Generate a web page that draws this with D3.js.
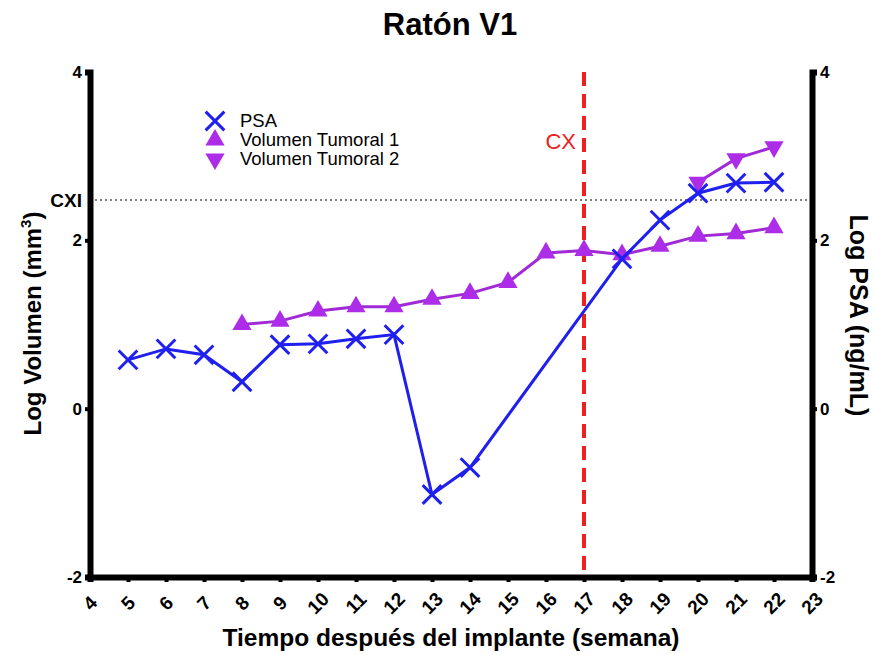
<!DOCTYPE html>
<html>
<head>
<meta charset="utf-8">
<script src="https://cdn.jsdelivr.net/npm/d3@7"></script>
<style>
  body { margin: 0; background: #fff; }
  text { font-family: "Liberation Sans", Arial, sans-serif; }
</style>
</head>
<body>
<script>
'use strict';

// weeks and values
const psaWeeks = [5, 6, 7, 8, 9, 10, 11, 12, 13, 14, 18, 19, 20, 21, 22];
const psaValues = [0.58, 0.71, 0.64, 0.32, 0.76, 0.77, 0.83, 0.88, -1.02, -0.70, 1.78, 2.24, 2.56, 2.68, 2.69];
const vol1Weeks = [8, 9, 10, 11, 12, 13, 14, 15, 16, 17, 18, 19, 20, 21, 22];
const vol1Values = [1.00, 1.04, 1.16, 1.21, 1.21, 1.30, 1.37, 1.50, 1.85, 1.88, 1.83, 1.93, 2.05, 2.08, 2.15];
const vol2Weeks = [20, 21, 22];
const vol2Values = [2.69, 2.97, 3.11];
const xTicks = [4, 5, 6, 7, 8, 9, 10, 11, 12, 13, 14, 15, 16, 17, 18, 19, 20, 21, 22, 23];
const yTicks = [-2, 0, 2, 4];
const cxiLevel = 2.48;
const cxWeek = 17;

const blue = "#1f1fee";
const purpleLine = "#a02ad6";
const purpleMark = "#ad2ce8";

const svg = d3.select('body').append('svg')
  .attr('width', 875)
  .attr('height', 655);

const x = d3.scaleLinear().domain([4, 23]).range([90, 812]);
const y = d3.scaleLinear().domain([-2, 4]).range([577, 72]);

// title
svg.append('text')
  .attr('x', 450).attr('y', 35)
  .attr('text-anchor', 'middle')
  .style('font-size', '31px').style('font-weight', 'bold')
  .text('Ratón V1');

// CXI reference line
svg.append('line')
  .attr('x1', x(4)).attr('x2', x(23))
  .attr('y1', y(cxiLevel)).attr('y2', y(cxiLevel))
  .attr('stroke', '#555').attr('stroke-width', 1.5)
  .attr('stroke-dasharray', '2,3');
svg.append('text')
  .attr('x', 82).attr('y', y(cxiLevel) + 7)
  .attr('text-anchor', 'end')
  .style('font-size', '19px').style('font-weight', 'bold')
  .text('CXI');

// CX vertical line
svg.append('line')
  .attr('x1', x(cxWeek)).attr('x2', x(cxWeek))
  .attr('y1', y(4)).attr('y2', y(-2))
  .attr('stroke', '#ee2020').attr('stroke-width', 4)
  .attr('stroke-dasharray', '14,8');
svg.append('text')
  .attr('x', x(cxWeek) - 8).attr('y', 149)
  .attr('text-anchor', 'end')
  .attr('fill', '#ee2020')
  .style('font-size', '22px')
  .text('CX');

// axes
const xAxis = d3.axisBottom(x).tickValues(xTicks).tickSize(5).tickFormat('');
const gx = svg.append('g').attr('transform', `translate(0,${y(-2)})`).call(xAxis);
const yAxisL = d3.axisLeft(y).tickValues(yTicks).tickSize(5).tickFormat('');
const gyl = svg.append('g').attr('transform', `translate(${x(4)},0)`).call(yAxisL);
const yAxisR = d3.axisRight(y).tickValues(yTicks).tickSize(5).tickFormat('');
const gyr = svg.append('g').attr('transform', `translate(${x(23)},0)`).call(yAxisR);

[gx, gyl, gyr].forEach(g => {
  g.select('.domain').attr('stroke', '#000').attr('stroke-width', 6);
  g.selectAll('.tick line').attr('stroke', '#000').attr('stroke-width', 4);
});

// tick labels
svg.selectAll('.xlab')
  .data(xTicks)
  .enter().append('text')
  .attr('transform', d => `translate(${x(d)},${603})rotate(-45)`)
  .attr('text-anchor', 'middle')
  .attr('dy', '0.35em')
  .style('font-size', '19px').style('font-weight', 'bold')
  .text(d => d);

svg.selectAll('.ylabL')
  .data(yTicks)
  .enter().append('text')
  .attr('x', 82).attr('y', d => y(d) + 6)
  .attr('text-anchor', 'end')
  .style('font-size', '17px').style('font-weight', 'bold')
  .text(d => d);

svg.selectAll('.ylabR')
  .data(yTicks)
  .enter().append('text')
  .attr('x', 820).attr('y', d => y(d) + 6)
  .attr('text-anchor', 'start')
  .style('font-size', '17px').style('font-weight', 'bold')
  .text(d => d);

// axis titles
svg.append('text')
  .attr('x', 451).attr('y', 646)
  .attr('text-anchor', 'middle')
  .style('font-size', '24.5px').style('font-weight', 'bold')
  .text('Tiempo después del implante (semana)');

const lt = svg.append('text')
  .attr('transform', `translate(41,${y(1) - 1})rotate(-90)`)
  .attr('text-anchor', 'middle')
  .style('font-size', '24px').style('font-weight', 'bold');
lt.append('tspan').text('Log Volumen (mm');
lt.append('tspan').attr('dy', -10).style('font-size', '15px').text('3');
lt.append('tspan').attr('dy', 10).text(')');

svg.append('text')
  .attr('transform', `translate(850,${y(1) - 9})rotate(90)`)
  .attr('text-anchor', 'middle')
  .style('font-size', '25px').style('font-weight', 'bold')
  .text('Log PSA (ng/mL)');

// series
const line = d3.line().x(d => x(d[0])).y(d => y(d[1]));
const psa = psaWeeks.map((w, i) => [w, psaValues[i]]);
const vol1 = vol1Weeks.map((w, i) => [w, vol1Values[i]]);
const vol2 = vol2Weeks.map((w, i) => [w, vol2Values[i]]);

const crossSym = d3.symbol(d3.symbolTimes, 230);
const triSym = d3.symbol(d3.symbolTriangle, 160);

function drawSeries(data, lineColor, drawMark) {
  svg.append('path')
    .datum(data)
    .attr('d', line)
    .attr('fill', 'none')
    .attr('stroke', lineColor)
    .attr('stroke-width', 3);
  data.forEach(d => drawMark(svg, x(d[0]), y(d[1])));
}

function cross(g, cx, cy) {
  g.append('path').attr('d', crossSym())
    .attr('transform', `translate(${cx},${cy})`)
    .attr('fill', 'none').attr('stroke', blue).attr('stroke-width', 3);
}
function triUp(g, cx, cy) {
  g.append('path').attr('d', triSym())
    .attr('transform', `translate(${cx},${cy})`)
    .attr('fill', purpleMark);
}
function triDown(g, cx, cy) {
  g.append('path').attr('d', triSym())
    .attr('transform', `translate(${cx},${cy})rotate(180)`)
    .attr('fill', purpleMark);
}

drawSeries(vol1, purpleLine, triUp);
drawSeries(vol2, purpleLine, triDown);
drawSeries(psa, blue, cross);

// legend
const legend = [
  { name: 'PSA', mark: cross },
  { name: 'Volumen Tumoral 1', mark: triUp },
  { name: 'Volumen Tumoral 2', mark: triDown }
];
legend.forEach((d, i) => {
  const ly = 127 + i * 19;
  d.mark(svg, 215, ly - 6);
  svg.append('text')
    .attr('x', 240).attr('y', ly)
    .style('font-size', '18.5px')
    .text(d.name);
});
</script>
</body>
</html>
